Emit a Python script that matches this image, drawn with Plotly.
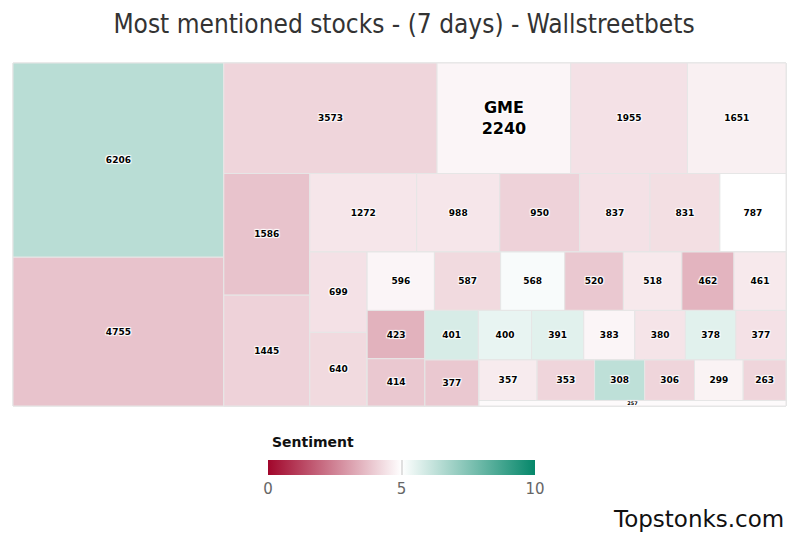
import plotly.graph_objects as go

# ---- Data ----
tickers = ["T01", "T02", "T03", "GME", "T05", "T06", "T07", "T08", "T09", "T10",
           "T11", "T12", "T13", "T14", "T15", "T16", "T17", "T18", "T19", "T20",
           "T21", "T22", "T23", "T24", "T25", "T26", "T27", "T28", "T29", "T30",
           "T31", "T32", "T33", "T34", "T35", "T36", "T37", "T38", "T39", "T40"]
mentions = [6206, 4755, 3573, 2240, 1955, 1651, 1586, 1445, 1272, 988,
            950, 837, 831, 787, 699, 640, 596, 587, 568, 520,
            518, 462, 461, 423, 414, 401, 400, 391, 383, 380,
            378, 377, 377, 357, 353, 308, 306, 299, 263, 257]
sentiment = [6.4, 3.8, 4.15, 4.8, 4.4, 4.7, 3.8, 4.1, 4.5, 4.5,
             4.1, 4.4, 4.35, 5.0, 4.4, 4.25, 4.8, 4.25, 5.15, 3.9,
             4.55, 3.5, 4.55, 3.45, 3.9, 5.8, 5.45, 5.6, 4.8, 4.45,
             5.6, 4.4, 3.9, 4.6, 4.15, 6.3, 4.15, 4.75, 4.15, 4.9]
labels_shown = ["GME"]
# number of tiles in each successive strip of the reference's squarified layout
strip_sizes = [2, 4, 2, 6, 2, 7, 2, 7, 1, 6, 1]

# ---- Build nested hierarchy that reproduces alternating strips ----
ids, labels, parents, values, colors, texts, sizes = [], [], [], [], [], [], []

def add(i_d, lab, par, val, col, txt, sz):
    ids.append(i_d); labels.append(lab); parents.append(par)
    values.append(val); colors.append(col); texts.append(txt); sizes.append(sz)

add("root", "Wallstreetbets", "", sum(mentions), 5.0, "", 9)
container = "root"
start = 0
for k, n in enumerate(strip_sizes):
    idx = list(range(start, start + n))
    start += n
    last = (k == len(strip_sizes) - 1)
    if n > 1:
        gid = f"strip{k}"
        add(gid, "", container, sum(mentions[i] for i in idx), 5.0, "", 9)
        leaf_parent = gid
    else:
        leaf_parent = container
    for i in idx:
        t = tickers[i]
        txt = f"{t}<br>{mentions[i]}" if t in labels_shown else f"{mentions[i]}"
        add(f"leaf{i}", t, leaf_parent, mentions[i], sentiment[i], txt,
            16 if t in labels_shown else 9)
    if not last:
        rest_val = sum(mentions[start:])
        rid = f"rest{k}"
        add(rid, "", container, rest_val, 5.0, "", 9)
        container = rid

fig = go.Figure(go.Treemap(
    ids=ids, labels=labels, parents=parents, values=values,
    branchvalues="total", sort=False,
    text=texts, texttemplate="%{text}", textposition="middle center",
    textfont=dict(family="DejaVu Sans", size=sizes, color="#000", weight="bold",
                  shadow="1px 1px 1px white, -1px -1px 1px white, 1px -1px 1px white, -1px 1px 1px white"),
    tiling=dict(packing="slice-dice", pad=0),
    marker=dict(
        colors=colors,
        colorscale=[[0, "#a1062b"], [0.5, "#ffffff"], [1, "#05876a"]],
        cmin=0, cmax=10,
        line=dict(color="#e6e6e6", width=1),
        pad=dict(t=0, l=0, r=0, b=0),
        colorbar=dict(
            orientation="h",
            tickvals=[0, 5, 10], ticktext=["0", "5", "10"],
            tickfont=dict(family="DejaVu Sans", size=15, color="#666"),
            ticks="inside", ticklen=15, tickcolor="#e0e0e0", tickwidth=2,
            thickness=15, xpad=0, ypad=0,
            lenmode="pixels", len=267,
            x=0.5026, xanchor="center",
            y=-0.157, yanchor="top",
            outlinewidth=0,
        ),
    ),
    pathbar=dict(visible=False),
    hoverinfo="label+value",
))

fig.update_layout(
    width=792, height=525,
    margin=dict(l=5, r=14, t=55, b=127),
    paper_bgcolor="white",
    title=dict(text="Most mentioned stocks - (7 days) - Wallstreetbets",
               x=0.5, xanchor="center", y=0.969, yanchor="middle",
               font=dict(family="DejaVu Sans Condensed, DejaVu Sans", size=26, color="#333")),
    annotations=[
        dict(text="<b>Sentiment</b>", xref="paper", yref="paper",
             x=0.3325, y=-0.105, xanchor="left", yanchor="middle", showarrow=False,
             font=dict(family="DejaVu Sans", size=14, color="#111")),
        dict(text="Topstonks.com", xref="paper", yref="paper",
             x=1.0, y=-0.329, xanchor="right", yanchor="middle", showarrow=False,
             font=dict(family="DejaVu Sans", size=23, color="#111")),
    ],
)

fig.write_html("out.html")
